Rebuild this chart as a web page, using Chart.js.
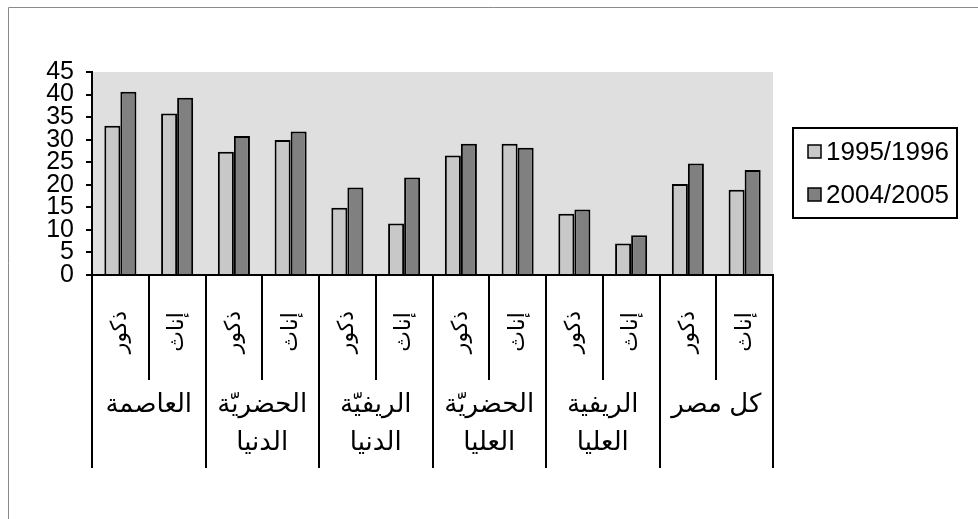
<!DOCTYPE html>
<html>
<head>
<meta charset="utf-8">
<script src="https://cdn.jsdelivr.net/npm/chart.js@4/dist/chart.umd.min.js"></script>
<style>
html,body{margin:0;padding:0;background:#fff;}
#wrap{width:978px;height:519px;position:relative;}
</style>
</head>
<body>
<div id="wrap"><canvas id="c" width="978" height="519"></canvas></div>
<script>
// ---- data ----
const groups = ["العاصمة", "الحضريّة الدنيا", "الريفيّة الدنيا", "الحضريّة العليا", "الريفية العليا", "كل مصر"];
const groupLines = [["العاصمة"], ["الحضريّة", "الدنيا"], ["الريفيّة", "الدنيا"], ["الحضريّة", "العليا"], ["الريفية", "العليا"], ["كل مصر"]];
const sexes = ["ذكور", "إناث"];
const categories = ["ذكور","إناث","ذكور","إناث","ذكور","إناث","ذكور","إناث","ذكور","إناث","ذكور","إناث"];
const seriesNames = ["1995/1996", "2004/2005"];
const values1995 = [33.1, 35.8, 27.3, 29.9, 14.9, 11.4, 26.5, 29.1, 13.6, 7.0, 20.2, 18.9];
const values2004 = [40.6, 39.3, 30.8, 31.8, 19.4, 21.6, 29.1, 28.2, 14.5, 8.8, 24.7, 23.3];
const yTicks = [0, 5, 10, 15, 20, 25, 30, 35, 40, 45];

const FONT = "'Liberation Sans', 'DejaVu Sans', Arial, sans-serif";

const bgPlugin = {
  id: 'bg',
  beforeDraw(chart) {
    const ctx = chart.ctx, a = chart.chartArea;
    ctx.save();
    ctx.fillStyle = '#fff';
    ctx.fillRect(0, 0, chart.width, chart.height);
    ctx.strokeStyle = '#8a8a8a';
    ctx.lineWidth = 1;
    ctx.beginPath();
    ctx.moveTo(8.5, chart.height);
    ctx.lineTo(8.5, 7.5);
    ctx.lineTo(chart.width, 7.5);
    ctx.stroke();
    ctx.fillStyle = '#dfdfdf';
    ctx.fillRect(a.left, a.top, a.right - a.left, a.bottom - a.top);
    ctx.restore();
  }
};

const catPlugin = {
  id: 'cats',
  afterDraw(chart) {
    const ctx = chart.ctx, xs = chart.scales.x;
    const n = categories.length;
    const step = (xs.right - xs.left) / n;
    const top = xs.top;
    ctx.save();
    ctx.strokeStyle = '#000';
    ctx.lineWidth = 2;
    for (let i = 0; i <= n; i++) {
      const x = Math.round(xs.getPixelForValue(0) - step / 2 + i * step);
      const len = (i % 2 === 0) ? 193 : 105;
      ctx.beginPath();
      ctx.moveTo(x, top);
      ctx.lineTo(x, top + len);
      ctx.stroke();
    }
    ctx.fillStyle = '#000';
    ctx.font = "22px " + FONT;
    ctx.textAlign = 'center';
    ctx.textBaseline = 'middle';
    for (let i = 0; i < n; i++) {
      const x = xs.getPixelForValue(i);
      ctx.save();
      ctx.translate(x, top + 57);
      ctx.rotate(-Math.PI / 2);
      ctx.fillText(categories[i], 0, 0);
      ctx.restore();
    }
    ctx.font = "26px " + FONT;
    for (let g = 0; g < groupLines.length; g++) {
      const x = (xs.getPixelForValue(2 * g) + xs.getPixelForValue(2 * g + 1)) / 2;
      groupLines[g].forEach((t, k) => ctx.fillText(t, x, top + 130 + k * 38));
    }
    ctx.restore();
  }
};

const legendPlugin = {
  id: 'boxLegend',
  afterDraw(chart) {
    const ctx = chart.ctx;
    const bx = 793, by = 128, bw = 164, bh = 90;
    ctx.save();
    ctx.strokeStyle = '#000';
    ctx.lineWidth = 2;
    ctx.strokeRect(bx, by, bw, bh);
    chart.data.datasets.forEach((ds, i) => {
      const cy = by + 24 + i * 43;
      ctx.fillStyle = ds.backgroundColor;
      ctx.fillRect(808, cy - 7, 13, 13);
      ctx.lineWidth = 1.5;
      ctx.strokeRect(808, cy - 7, 13, 13);
      ctx.fillStyle = '#000';
      ctx.font = "26px " + FONT;
      ctx.textAlign = 'left';
      ctx.textBaseline = 'middle';
      ctx.fillText(ds.label, 826, cy + 1);
    });
    ctx.restore();
  }
};

new Chart(document.getElementById('c'), {
  type: 'bar',
  data: {
    labels: categories,
    datasets: [
      { label: seriesNames[0], data: values1995, backgroundColor: '#c8c8c8', borderColor: '#000', borderWidth: 2 },
      { label: seriesNames[1], data: values2004, backgroundColor: '#808080', borderColor: '#000', borderWidth: 2 }
    ]
  },
  options: {
    responsive: false,
    animation: false,
    devicePixelRatio: 1,
    categoryPercentage: 0.565,
    barPercentage: 1,
    layout: { padding: { left: 0, top: 72, right: 205, bottom: 51 } },
    plugins: { legend: { display: false }, tooltip: { enabled: false } },
    scales: {
      x: {
        grid: { display: false },
        border: { display: true, color: '#000', width: 2 },
        ticks: { display: false },
        afterFit(s) { s.height = 193; }
      },
      y: {
        min: 0, max: 45,
        afterBuildTicks(s) { s.ticks = yTicks.map(v => ({ value: v })); },
        ticks: { autoSkip: false, color: '#000', font: { family: FONT, size: 25 }, padding: 12 },
        grid: { drawOnChartArea: false, drawTicks: true, tickLength: 6, color: '#000', lineWidth: 2 },
        border: { display: true, color: '#000', width: 2 },
        afterFit(s) { s.width = 92; }
      }
    }
  },
  plugins: [bgPlugin, catPlugin, legendPlugin]
});
</script>
</body>
</html>
